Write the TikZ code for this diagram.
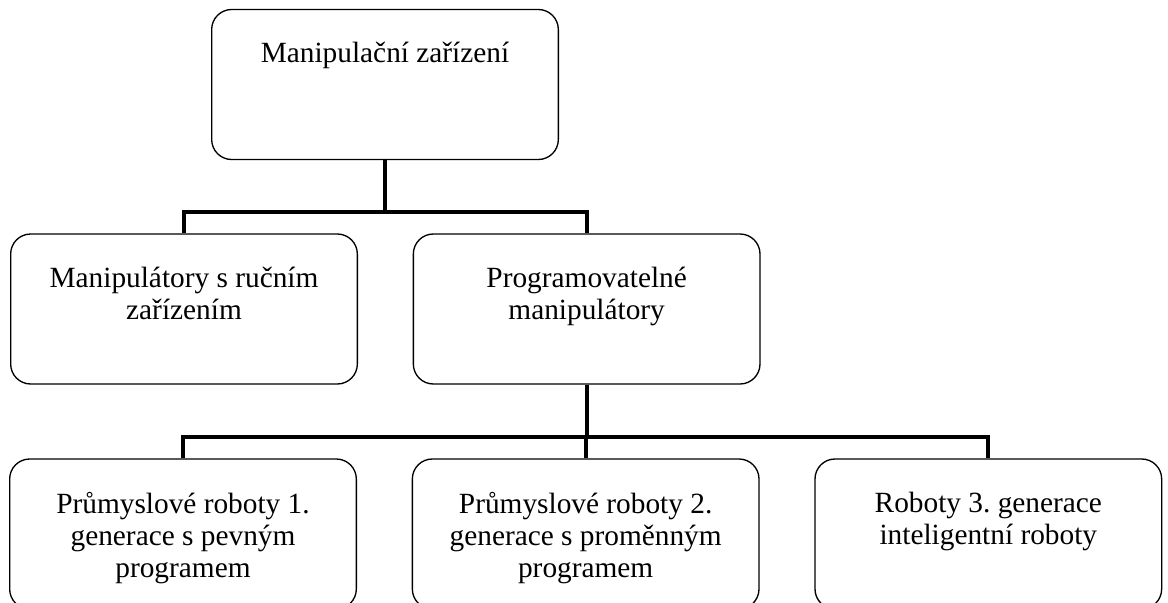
\documentclass[tikz,border=0pt]{standalone}
\usepackage{fontspec}
\setmainfont{Liberation Serif}
\frenchspacing
\usetikzlibrary{positioning}
\begin{document}
\begin{tikzpicture}[x=0.75pt, y=-0.75pt, node distance=41pt, every node/.style={font=\fontsize{22}{24}\selectfont},
        box/.style={draw, line width=1pt, rounded corners=15pt, minimum width=260pt, minimum height=112.5pt, inner sep=0pt},
        txt/.style={align=center, anchor=north, inner sep=0pt},
        link/.style={line width=3pt}]
        \useasboundingbox (0,0) rectangle (1168,603);
        \node[box] (zarizeni) at (385,84.5) {};
        \node[box] (rucni) at (184,309) {};
        \node[box, right=of rucni] (program) {};
        \node[box] (gen1) at (183,534) {};
        \node[box, right=of gen1] (gen2) {};
        \node[box, right=of gen2] (gen3) {};
        \node[txt, below=25pt of zarizeni.north] (tzar) {Manipulační zařízení};
        \node[txt, below=25pt of rucni.north] (truc) {Manipulátory s ručním\\zařízením};
        \node[txt, below=25pt of program.north] (tprog) {Programovatelné\\manipulátory};
        \node[txt, below=25pt of gen1.north] (tgen1) {Průmyslové roboty 1.\\generace s pevným\\programem};
        \node[txt, below=25pt of gen2.north] (tgen2) {Průmyslové roboty 2.\\generace s proměnným\\programem};
        \node[txt, below=25pt of gen3.north] (tgen3) {Roboty 3. generace\\inteligentní roboty};
        \draw[link] (zarizeni.south) -- ++(0,52) -| (rucni.north);
        \draw[link] (zarizeni.south) -- ++(0,52) -| (program.north);
        \draw[link] (program.south) -- ++(0,52) -| (gen1.north);
        \draw[link] (program.south) -- ++(0,52) -| (gen2.north);
        \draw[link] (program.south) -- ++(0,52) -| (gen3.north);
    \end{tikzpicture}
\end{document}
